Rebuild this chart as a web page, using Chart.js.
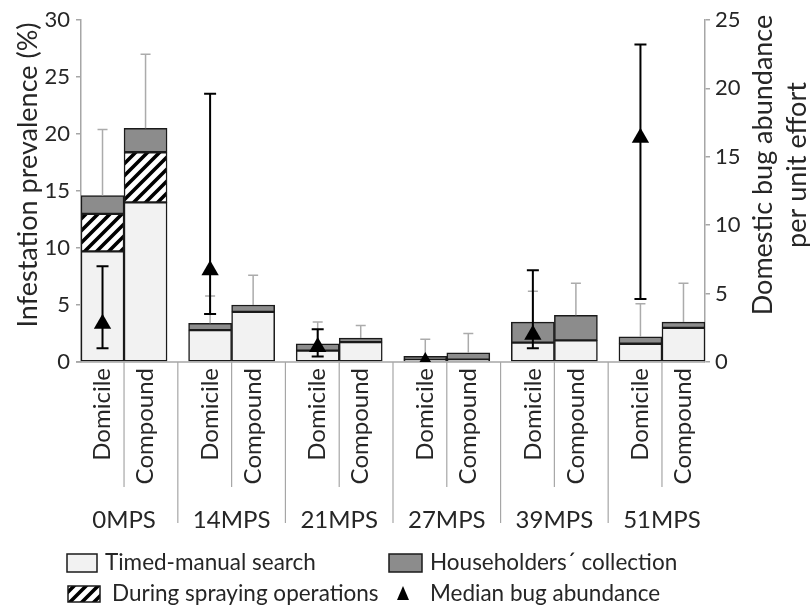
<!DOCTYPE html>
<html>
<head>
<meta charset="utf-8">
<script src="https://cdn.jsdelivr.net/npm/chart.js@4.4.1/dist/chart.umd.min.js"></script>
<style>
  html, body { margin: 0; padding: 0; background: #fff; }
  #wrap { width: 810px; height: 606px; }
</style>
</head>
<body>
<div id="wrap"><canvas id="chart" width="810" height="606"></canvas></div>
<script>
// Infestation prevalence by search method, per site and survey time
var groups = ['0MPS', '14MPS', '21MPS', '27MPS', '39MPS', '51MPS'];
var sites = ['Domicile', 'Compound'];

// one value per bar: Domicile, Compound for each group (stacked segments, %)
var timedSearch    = [9.7, 14.0, 2.8, 4.4, 1.0, 1.75, 0.2, 0.2, 1.7, 1.9, 1.6, 3.0];
var duringSpraying = [3.3, 4.4, null, null, null, null, null, null, null, null, null, null];
var householders   = [1.6, 2.1, 0.6, 0.6, 0.6, 0.35, 0.3, 0.6, 1.8, 2.2, 0.6, 0.5];
// upper end of the (grey) error bar on each total, %
var prevalenceUpper = [20.4, 27.0, 5.8, 7.6, 3.5, 3.2, 2.0, 2.5, 6.2, 6.9, 5.1, 6.9];

// median domestic bug abundance per unit effort (Domicile only), right axis
var medianBugs = [2.8, 6.7, 1.1, 0, 2.0, 16.4];
var medianLow  = [1.0, 3.5, 0.4, 0, 1.0, 4.6];
var medianHigh = [7.0, 19.6, 2.4, 0, 6.7, 23.2];

var leftTicks = { min: 0, max: 30, step: 5 };
var rightTicks = { min: 0, max: 25, step: 5 };

var FONT = 'Lato, "Open Sans", sans-serif';
var TEXT = '#262626';
var AXIS = '#a6a6a6';
var LIGHT = '#f2f2f2';
var DARK = '#8c8c8c';

// bar slot on the x scale: two bars per group, half a bar of gap between groups
function barX(i) { return Math.floor(i / 2) * 2.5 + (i % 2); }

function toPoints(vals) {
  var out = [];
  vals.forEach(function (v, i) { if (v != null) out.push({ x: barX(i), y: v }); });
  return out;
}

function makeHatch() {
  var s = 12;
  var p = document.createElement('canvas');
  p.width = s; p.height = s;
  var c = p.getContext('2d');
  c.fillStyle = '#fff';
  c.fillRect(0, 0, s, s);
  c.strokeStyle = '#000';
  c.lineWidth = 3.6;
  c.beginPath();
  c.moveTo(-2, s + 2); c.lineTo(s + 2, -2);
  c.moveTo(-2, 2); c.lineTo(2, -2);
  c.moveTo(s - 2, s + 2); c.lineTo(s + 2, s - 2);
  c.stroke();
  return document.getElementById('chart').getContext('2d').createPattern(p, 'repeat');
}

var hatch = makeHatch();

var totals = timedSearch.map(function (v, i) {
  return v + (duringSpraying[i] || 0) + householders[i];
});

function font(size) { return size + 'px ' + FONT; }

var decor = {
  id: 'decor',
  beforeDatasetDraw: function (chart, args) {
    if (args.meta.type !== 'scatter') return;
    var c = chart.ctx, xs = chart.scales.x, y = chart.scales.y, y2 = chart.scales.y2;
    var area = chart.chartArea;
    c.save();
    // x axis line
    c.strokeStyle = AXIS;
    c.lineWidth = 1.5;
    c.beginPath();
    c.moveTo(area.left - 5, area.bottom);
    c.lineTo(area.right, area.bottom);
    c.stroke();
    // grey error bars on prevalence
    c.strokeStyle = '#ababab';
    c.lineWidth = 1.5;
    prevalenceUpper.forEach(function (hi, i) {
      var px = xs.getPixelForValue(barX(i));
      var top = y.getPixelForValue(hi), base = y.getPixelForValue(totals[i]);
      c.beginPath();
      c.moveTo(px, base); c.lineTo(px, top);
      c.moveTo(px - 5, top); c.lineTo(px + 5, top);
      c.stroke();
    });
    // black range bars on median abundance
    c.strokeStyle = '#000';
    c.lineWidth = 2;
    medianBugs.forEach(function (m, g) {
      if (medianHigh[g] === medianLow[g]) return;
      var px = xs.getPixelForValue(barX(g * 2));
      var top = y2.getPixelForValue(medianHigh[g]), bot = y2.getPixelForValue(medianLow[g]);
      c.beginPath();
      c.moveTo(px, bot); c.lineTo(px, top);
      c.moveTo(px - 6, top); c.lineTo(px + 6, top);
      c.moveTo(px - 6, bot); c.lineTo(px + 6, bot);
      c.stroke();
    });
    c.restore();
  },
  afterDraw: function (chart) {
    var c = chart.ctx, xs = chart.scales.x, area = chart.chartArea;
    var base = area.bottom;
    c.save();
    // separators under the axis
    c.strokeStyle = AXIS;
    c.lineWidth = 1.2;
    groups.forEach(function (g, gi) {
      var mid = xs.getPixelForValue(gi * 2.5 + 0.5);
      c.beginPath(); c.moveTo(mid, base); c.lineTo(mid, base + 125); c.stroke();
      if (gi < groups.length - 1) {
        var sep = xs.getPixelForValue(gi * 2.5 + 1.75);
        c.beginPath(); c.moveTo(sep, base); c.lineTo(sep, base + 161); c.stroke();
      }
    });
    // site labels (rotated) and group labels
    c.fillStyle = TEXT;
    c.font = font(24);
    for (var i = 0; i < groups.length * 2; i++) {
      c.save();
      c.translate(xs.getPixelForValue(barX(i)), base + 6);
      c.rotate(-Math.PI / 2);
      c.textAlign = 'right';
      c.textBaseline = 'middle';
      c.fillText(sites[i % 2], 0, 0);
      c.restore();
    }
    c.textAlign = 'center';
    c.textBaseline = 'middle';
    groups.forEach(function (g, gi) {
      c.fillText(g, xs.getPixelForValue(gi * 2.5 + 0.5), base + 158);
    });
    // axis titles
    c.font = font(27);
    c.save();
    c.translate(28, 175);
    c.rotate(-Math.PI / 2);
    c.fillText('Infestation prevalence (%)', 0, 0);
    c.restore();
    c.save();
    c.translate(763, 165);
    c.rotate(-Math.PI / 2);
    c.fillText('Domestic bug abundance', 0, 0);
    c.fillText('per unit effort', 0, 34);
    c.restore();
    // legend
    var ds = chart.data.datasets;
    c.font = font(22.5);
    c.textAlign = 'left';
    c.lineWidth = 1.5;
    c.strokeStyle = '#1a1a1a';
    function box(x, y, w, h, fill) {
      c.fillStyle = fill; c.fillRect(x, y, w, h);
      c.strokeRect(x, y, w, h);
    }
    box(67, 554, 30, 18, LIGHT);
    box(389, 554, 33, 18, DARK);
    box(68, 586, 32, 16, hatch);
    c.fillStyle = '#000';
    c.beginPath();
    c.moveTo(403, 586); c.lineTo(409, 600); c.lineTo(397, 600); c.closePath();
    c.fill();
    c.fillStyle = TEXT;
    c.fillText(ds[1].label, 105, 563);
    c.fillText(ds[3].label, 430, 563);
    c.fillText(ds[2].label, 112, 594);
    c.fillText(ds[0].label, 430, 594);
    c.restore();
  }
};

var axisGrid = { drawOnChartArea: false, drawTicks: true, tickLength: 5, color: AXIS, lineWidth: 1.5 };

new Chart(document.getElementById('chart'), {
  type: 'bar',
  data: {
    datasets: [
      {
        type: 'scatter', label: 'Median bug abundance', yAxisID: 'y2', order: 0,
        data: medianBugs.map(function (v, g) { return { x: barX(g * 2), y: v }; }),
        pointStyle: 'triangle', pointRadius: 10, backgroundColor: '#000', borderColor: '#000', borderWidth: 0
      },
      { label: 'Timed-manual search', data: toPoints(timedSearch), backgroundColor: LIGHT, stack: 's', order: 1 },
      { label: 'During spraying operations', data: toPoints(duringSpraying), backgroundColor: hatch, stack: 's', order: 1 },
      { label: 'Householders\u00b4 collection', data: toPoints(householders), backgroundColor: DARK, stack: 's', order: 1 }
    ]
  },
  options: {
    responsive: false,
    animation: false,
    layout: { padding: { top: 20, bottom: 244, left: 0, right: 0 } },
    datasets: {
      bar: { barPercentage: 1, categoryPercentage: 1, borderWidth: 1.5, borderColor: '#1a1a1a', borderSkipped: false }
    },
    plugins: { legend: { display: false }, tooltip: { enabled: false } },
    scales: {
      x: {
        type: 'linear', display: false, offset: false, min: -0.5, max: 14,
        afterBuildTicks: function (s) {
          s.ticks = timedSearch.map(function (v, i) { return { value: barX(i) }; });
        }
      },
      y: {
        position: 'left', stacked: true, min: leftTicks.min, max: leftTicks.max,
        ticks: { stepSize: leftTicks.step, padding: 6, color: TEXT, font: { family: FONT, size: 22 } },
        grid: axisGrid, border: { color: AXIS, width: 1.5 },
        afterFit: function (s) { s.width = 81; }
      },
      y2: {
        position: 'right', min: rightTicks.min, max: rightTicks.max,
        ticks: { stepSize: rightTicks.step, padding: 5, color: TEXT, font: { family: FONT, size: 22 } },
        grid: axisGrid, border: { color: AXIS, width: 1.5 },
        afterFit: function (s) { s.width = 105; }
      }
    }
  },
  plugins: [decor]
});
</script>
</body>
</html>
